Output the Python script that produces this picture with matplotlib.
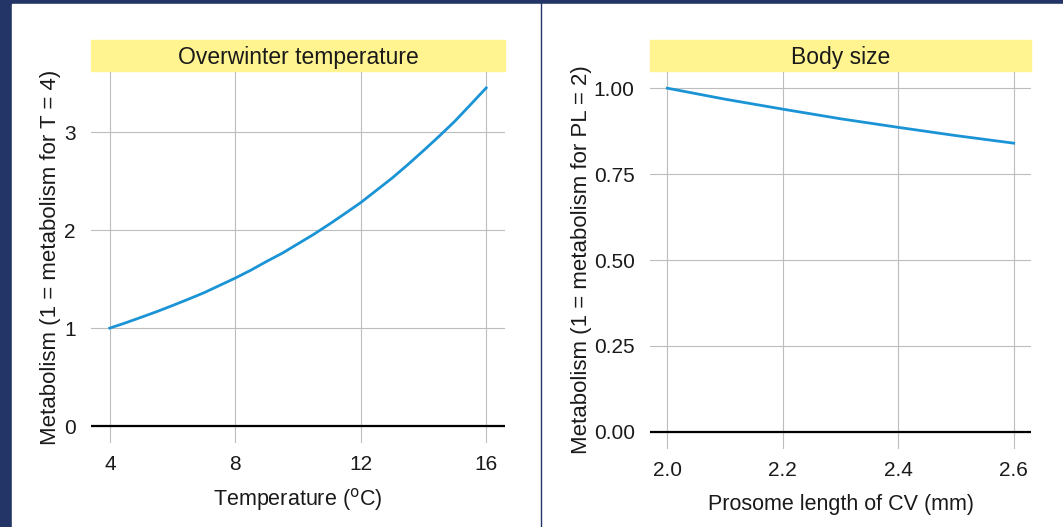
import matplotlib
matplotlib.use('Agg')
import matplotlib.pyplot as plt
from matplotlib.patches import Rectangle
from matplotlib.lines import Line2D

plt.rcParams['font.family'] = ['Liberation Sans', 'DejaVu Sans']

# panel 1: metabolism vs overwinter temperature
temp = [4, 4.5, 5, 5.5, 6, 6.5, 7, 7.5, 8, 8.5, 9, 9.5, 10, 10.5, 11, 11.5,
        12, 12.5, 13, 13.5, 14, 14.5, 15, 15.5, 16]
metab_temp = [1.00, 1.053, 1.11, 1.168, 1.23, 1.294, 1.36, 1.435, 1.51, 1.591,
              1.68, 1.764, 1.86, 1.956, 2.06, 2.169, 2.28, 2.405, 2.53, 2.667,
              2.81, 2.957, 3.11, 3.279, 3.45]
temp_ticks = [4, 8, 12, 16]
temp_yticks = [0, 1, 2, 3]

# panel 2: metabolism vs prosome length
pl = [2.0, 2.1, 2.2, 2.3, 2.4, 2.5, 2.6]
metab_pl = [1.000, 0.968, 0.939, 0.911, 0.886, 0.862, 0.840]
pl_ticks = [2.0, 2.2, 2.4, 2.6]
pl_yticks = [0.00, 0.25, 0.50, 0.75, 1.00]

navy = '#233567'
blue = '#1b94d6'
strip = '#fff48f'
grid = '#bdbdbd'
W, H = 1063, 527

fig = plt.figure(figsize=(W / 100, H / 100), dpi=100, facecolor=navy)
# white background with navy top/left border and a divider
fig.patches.append(Rectangle((12 / W, 0), (W - 12) / W, 1 - 4 / H,
                             transform=fig.transFigure, color='white', zorder=-2))
fig.lines.append(Line2D([540.5 / W, 540.5 / W], [0, 1], transform=fig.transFigure,
                        color=navy, lw=1.0, zorder=-1))


def px_axes(l, r, t, b):
    return fig.add_axes([l / W, 1 - b / H, (r - l) / W, (b - t) / H])


def style(ax, title, xlabel, ylabel, xt, yt, xfmt, yfmt, ylx, xly):
    ax.set_facecolor('white')
    for s in ax.spines.values():
        s.set_visible(False)
    ax.set_xticks(xt)
    ax.set_yticks(yt)
    ax.set_xticklabels([xfmt.format(v) for v in xt])
    ax.set_yticklabels([yfmt.format(v) for v in yt])
    ax.tick_params(length=0, labelsize=15, colors='#1a1a1a')
    ax.tick_params(axis='y', pad=11)
    ax.tick_params(axis='x', pad=9)
    ax.grid(True, color=grid, lw=0.8)
    ax.set_axisbelow(True)
    ax.axhline(0, color='black', lw=1.6, zorder=3)
    ax.set_xlabel(xlabel, fontsize=15.5, color='#1a1a1a')
    ax.set_ylabel(ylabel, fontsize=16, color='#1a1a1a')
    ax.xaxis.set_label_coords(0.5, xly)
    ax.xaxis.label.set_va('center')
    ax.yaxis.set_label_coords(ylx, 0.5)
    ax.yaxis.label.set_va('center')
    hh = 31 / (ax.get_position().height * H)
    ax.add_patch(Rectangle((0, 1), 1, hh, transform=ax.transAxes,
                           color=strip, clip_on=False, zorder=5))
    ax.text(0.5, 1 + hh * 0.45, title, transform=ax.transAxes, ha='center',
            va='center', fontsize=16.5, color='#1a1a1a', zorder=6)


ax1 = px_axes(91, 505, 71, 443)
ax1.plot(temp, metab_temp, color=blue, lw=2, zorder=4)
ax1.set_xlim(3.4, 16.6)
ax1.set_ylim(-0.1725, 3.6225)
style(ax1, 'Overwinter temperature', r'Temperature ($^{\mathrm{o}}$C)',
      'Metabolism (1 = metabolism for T = 4)', temp_ticks, temp_yticks,
      '{:d}', '{:d}', -0.097, -0.153)

ax2 = px_axes(650, 1031, 71, 449)
ax2.plot(pl, metab_pl, color=blue, lw=2, zorder=4)
ax2.set_xlim(1.97, 2.63)
ax2.set_ylim(-0.05, 1.05)
style(ax2, 'Body size', 'Prosome length of CV (mm)',
      'Metabolism (1 = metabolism for PL = 2)', pl_ticks, pl_yticks,
      '{:.1f}', '{:.2f}', -0.181, -0.148)

fig.savefig('out.png', dpi=100, facecolor=navy)
